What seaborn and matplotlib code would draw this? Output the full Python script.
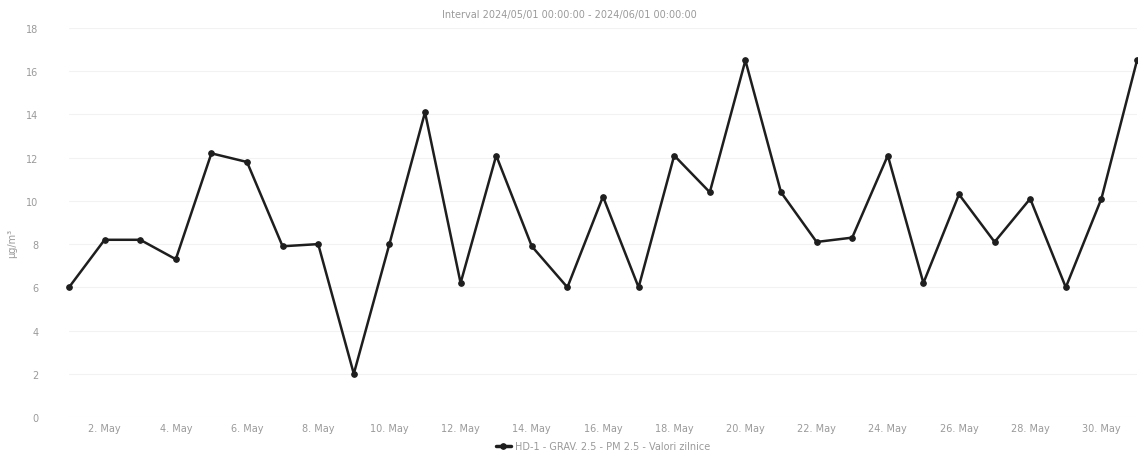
import pandas as pd
import matplotlib
matplotlib.use("Agg")
import matplotlib.pyplot as plt
import seaborn as sns

# DATA - daily PM 2.5 values, May 2024

dates = pd.date_range("2024-05-01", "2024-05-31", freq="D")

pm25 = [
    6.0, 8.2, 8.2, 7.3, 12.2, 11.8, 7.9, 8.0, 2.0, 8.0,
    14.1, 6.2, 12.1, 7.9, 6.0, 10.2, 6.0, 12.1, 10.4, 16.5,
    10.4, 8.1, 8.3, 12.1, 6.2, 10.3, 8.1, 10.1, 6.0, 10.1,
    16.5,
]

tick_dates = pd.to_datetime([
    "2024-05-02", "2024-05-04", "2024-05-06", "2024-05-08",
    "2024-05-10", "2024-05-12", "2024-05-14", "2024-05-16",
    "2024-05-18", "2024-05-20", "2024-05-22", "2024-05-24",
    "2024-05-26", "2024-05-28", "2024-05-30",
])
tick_labels = [
    "2. May", "4. May", "6. May", "8. May", "10. May", "12. May",
    "14. May", "16. May", "18. May", "20. May", "22. May", "24. May",
    "26. May", "28. May", "30. May",
]
y_ticks = [0, 2, 4, 6, 8, 10, 12, 14, 16, 18]

series_name = "HD-1 - GRAV. 2.5 - PM 2.5 - Valori zilnice"
title = "Interval 2024/05/01 00:00:00 - 2024/06/01 00:00:00"

df = pd.DataFrame({"Date": dates, "Value": pm25, "Series": series_name})

# PLOT

sns.set_style("white")
plt.rcParams["font.family"] = ["DejaVu Sans"]

text_col = "#9a9a9a"
line_col = "#1e1e1e"

fig = plt.figure(figsize=(11.38, 4.52), dpi=100)
ax = fig.add_axes([69 / 1138, 1 - 418 / 452, 1068 / 1138, 389 / 452])

sns.lineplot(
    data=df,
    x="Date",
    y="Value",
    hue="Series",
    palette=[line_col],
    marker="o",
    markersize=4,
    markeredgecolor=line_col,
    markeredgewidth=0.8,
    linewidth=1.8,
    ax=ax,
)

ax.set_xlim(dates[0], dates[-1])
ax.set_ylim(0, 18)
ax.set_yticks(y_ticks)
ax.set_xticks(tick_dates)
ax.set_xticklabels(tick_labels)

ax.tick_params(axis="y", length=0, pad=22, labelsize=7, labelcolor=text_col)
ax.tick_params(axis="x", length=0, pad=4, labelsize=7, labelcolor=text_col)

ax.grid(axis="y", color="#f2f2f2", linewidth=0.8)
for s in ax.spines.values():
    s.set_visible(False)

ax.set_xlabel("")
ax.set_ylabel("µg/m³", fontsize=7, color=text_col)
ax.yaxis.set_label_coords(-52 / 1068, 0.45)

fig.text(0.5, 1 - 15 / 452, title, ha="center", va="center",
         fontsize=7, color=text_col)

leg = ax.legend(
    loc="center",
    bbox_to_anchor=(0.5, -29 / 389),
    frameon=False,
    fontsize=7,
    labelcolor=text_col,
    handlelength=1.6,
    handletextpad=0.4,
)
for h in leg.get_lines():
    h.set_linewidth(2.5)

for line in ax.lines:
    line.set_clip_on(False)

fig.savefig("out.png", dpi=100)
